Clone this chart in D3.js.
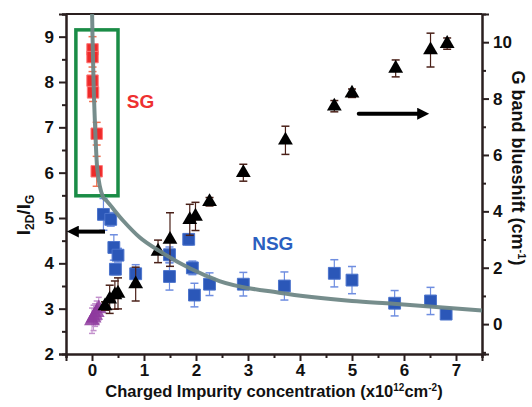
<!DOCTYPE html>
<html>
<head>
<meta charset="utf-8">
<script src="https://cdn.jsdelivr.net/npm/d3@7/dist/d3.min.js"></script>
<style>
  body { margin: 0; background: #fff; }
  svg { font-family: "Liberation Sans", Arial, sans-serif; font-weight: bold; }
</style>
</head>
<body>
<svg id="chart"></svg>
<script>
// SG samples (left axis, I2D/IG)
const sgX = [0.01, 0.01, 0.01, 0.02, 0.09, 0.09];
const sgY = [8.72, 8.55, 8.03, 7.77, 6.86, 6.03];
const sgErr = [0.28, 0.22, 0.2, 0.2, 0.25, 0.33];

// NSG samples (left axis, I2D/IG)
const nsgX = [0.22, 0.36, 0.42, 0.50, 0.45, 0.84, 1.49, 1.49, 1.86, 1.93, 1.97, 2.26, 2.91, 3.70, 4.66, 5.00, 5.82, 6.51, 6.81];
const nsgY = [5.08, 4.97, 4.35, 4.18, 3.87, 3.77, 4.19, 3.71, 4.53, 3.90, 3.30, 3.54, 3.54, 3.50, 3.78, 3.63, 3.12, 3.17, 2.88];
const nsgErr = [0.35, 0.15, 0.28, 0.15, 0.12, 0.2, 0.17, 0.3, 0.12, 0.15, 0.26, 0.25, 0.26, 0.31, 0.3, 0.3, 0.28, 0.3, 0.05];

// G band blueshift (right axis, cm-1)
const shiftX = [0.25, 0.34, 0.44, 0.50, 0.84, 1.27, 1.50, 1.88, 1.99, 2.26, 2.91, 3.72, 4.66, 5.00, 5.84, 6.51, 6.83];
const shiftY = [0.64, 0.88, 1.03, 1.09, 1.42, 2.58, 3.0, 3.70, 3.82, 4.34, 5.37, 6.52, 7.73, 8.19, 9.07, 9.72, 9.95];
const shiftErr = [0.15, 0.5, 0.5, 0.55, 0.6, 0.4, 0.95, 0.55, 0.5, 0.15, 0.3, 0.5, 0.2, 0.15, 0.3, 0.6, 0.2];

// blueshift of the SG samples (right axis)
const sgShiftX = [0.0, 0.03, 0.06, 0.09, 0.13];
const sgShiftY = [0.12, 0.22, 0.32, 0.42, 0.55];
const sgShiftErr = [0.45, 0.45, 0.4, 0.4, 0.4];

// fitted curve (left axis)
const fitX = [0.002, 0.01, 0.03, 0.06, 0.1, 0.21, 0.28, 0.6, 0.92, 1.3, 1.88, 2.45, 3.6, 5.0, 5.8, 7.5];
const fitY = [9.5, 9.0, 8.0, 7.0, 6.1, 5.47, 5.38, 4.94, 4.57, 4.27, 3.89, 3.61, 3.35, 3.17, 3.11, 2.96];

const xTicks = [0, 1, 2, 3, 4, 5, 6, 7];
const leftTicks = [2, 3, 4, 5, 6, 7, 8, 9];
const rightTicks = [0, 2, 4, 6, 8, 10];

const width = 532, height = 407;
const margin = { top: 14, right: 50, bottom: 53, left: 66 };
const axisColor = "#2a1f1f";

const svg = d3.select("#chart").attr("width", width).attr("height", height);

const x = d3.scaleLinear().domain([-0.5, 7.5]).range([margin.left, width - margin.right]);
const yL = d3.scaleLinear().domain([2, 9.5]).range([height - margin.bottom, margin.top]);
const yR = d3.scaleLinear().domain([-1.06, 11]).range([height - margin.bottom, margin.top]);

const zip = (xs, ys, es) => xs.map((v, i) => ({ x: v, y: ys[i], e: es ? es[i] : 0 }));

// axes
function styleAxis(g) {
    g.select(".domain").attr("stroke", axisColor).attr("stroke-width", 2);
    g.selectAll(".tick line").attr("stroke", axisColor).attr("stroke-width", 2);
    g.selectAll(".tick text").attr("fill", "#111").style("font-size", "17px").style("font-weight", "bold");
}

const xMinor = d3.range(-0.5, 7.6, 0.5).filter(v => !xTicks.includes(v));
svg.append("g").attr("transform", `translate(0,${height - margin.bottom})`)
    .call(d3.axisBottom(x).tickValues(xMinor).tickSize(4).tickFormat(""))
    .call(styleAxis);
svg.append("g").attr("transform", `translate(0,${height - margin.bottom})`)
    .call(d3.axisBottom(x).tickValues(xTicks).tickSize(7).tickPadding(3).tickFormat(d3.format("d")))
    .call(styleAxis);

const lMinor = d3.range(2.5, 9.6, 1);
svg.append("g").attr("transform", `translate(${margin.left},0)`)
    .call(d3.axisLeft(yL).tickValues(lMinor).tickSize(4).tickFormat(""))
    .call(styleAxis);
svg.append("g").attr("transform", `translate(${margin.left},0)`)
    .call(d3.axisLeft(yL).tickValues(leftTicks).tickSize(7).tickPadding(5))
    .call(styleAxis);

const rMinor = [-1, 1, 3, 5, 7, 9];
svg.append("g").attr("transform", `translate(${width - margin.right},0)`)
    .call(d3.axisRight(yR).tickValues(rMinor).tickSize(4).tickFormat(""))
    .call(styleAxis);
svg.append("g").attr("transform", `translate(${width - margin.right},0)`)
    .call(d3.axisRight(yR).tickValues(rightTicks).tickSize(7).tickPadding(4))
    .call(styleAxis);

// top frame line
svg.append("line")
    .attr("x1", margin.left).attr("x2", width - margin.right)
    .attr("y1", margin.top).attr("y2", margin.top)
    .attr("stroke", axisColor).attr("stroke-width", 2);

// green box around SG samples
svg.append("rect")
    .attr("x", x(-0.31)).attr("y", yL(9.15))
    .attr("width", x(0.5) - x(-0.31)).attr("height", yL(5.49) - yL(9.15))
    .attr("fill", "none").attr("stroke", "#1a8c46").attr("stroke-width", 3.5);

// error bars + markers
function drawSeries(data, yScale, opts) {
    const g = svg.append("g");
    const cap = opts.cap || 4;
    const bars = g.selectAll("g.err").data(data.filter(d => d.e > 0)).join("g").attr("class", "err");
    bars.append("line")
        .attr("x1", d => x(d.x)).attr("x2", d => x(d.x))
        .attr("y1", d => yScale(d.y + d.e)).attr("y2", d => yScale(d.y - d.e))
        .attr("stroke", opts.errColor).attr("stroke-width", opts.errWidth || 1.2);
    [1, -1].forEach(s => {
        bars.append("line")
            .attr("x1", d => x(d.x) - cap).attr("x2", d => x(d.x) + cap)
            .attr("y1", d => yScale(d.y + s * d.e)).attr("y2", d => yScale(d.y + s * d.e))
            .attr("stroke", opts.errColor).attr("stroke-width", 1.5);
    });
    g.selectAll("path.mark").data(data).join("path").attr("class", "mark")
        .attr("transform", d => `translate(${x(d.x)},${yScale(d.y)})`)
        .attr("d", d3.symbol().type(opts.symbol).size(opts.size))
        .attr("fill", opts.fill)
        .attr("fill-opacity", opts.opacity || 1)
        .attr("stroke", opts.stroke || "none")
        .attr("stroke-width", 1);
}

drawSeries(zip(sgShiftX, sgShiftY, sgShiftErr), yR,
    { symbol: d3.symbolTriangle, size: 110, fill: "#8e3a9e", opacity: 0.85, errColor: "#c290cc", errWidth: 1, cap: 3 });
drawSeries(zip(sgX, sgY, sgErr), yL,
    { symbol: d3.symbolSquare, size: 130, fill: "#ee2a2a", stroke: "#f77", errColor: "#f07050" });
drawSeries(zip(nsgX, nsgY, nsgErr), yL,
    { symbol: d3.symbolSquare, size: 140, fill: "#2b57b8", stroke: "#4c74cc", errColor: "#6f8ee0" });
drawSeries(zip(shiftX, shiftY, shiftErr), yR,
    { symbol: d3.symbolTriangle, size: 95, fill: "#000", errColor: "#4a2018" });

// fitted curve
const line = d3.line().x(d => x(d.x)).y(d => yL(d.y)).curve(d3.curveMonotoneX);
svg.append("path")
    .datum(zip(fitX, fitY))
    .attr("d", line)
    .attr("fill", "none")
    .attr("stroke", "#6f8786")
    .attr("stroke-width", 4)
    .attr("stroke-opacity", 0.95);

// arrows pointing to the relevant axis
const defs = svg.append("defs");
defs.append("marker")
    .attr("id", "head").attr("viewBox", "0 0 10 10")
    .attr("refX", 2).attr("refY", 5)
    .attr("markerWidth", 4.5).attr("markerHeight", 3)
    .attr("orient", "auto")
    .append("path").attr("d", "M0,0 L10,5 L0,10 z").attr("fill", "#000");

svg.append("line")
    .attr("x1", x(0.25)).attr("y1", yL(4.7))
    .attr("x2", x(-0.3)).attr("y2", yL(4.7))
    .attr("stroke", "#000").attr("stroke-width", 4).attr("marker-end", "url(#head)");
svg.append("line")
    .attr("x1", x(5.13)).attr("y1", yL(7.3))
    .attr("x2", x(6.3)).attr("y2", yL(7.3))
    .attr("stroke", "#000").attr("stroke-width", 4).attr("stroke-linecap", "round").attr("marker-end", "url(#head)");

// labels
svg.append("text").attr("x", x(0.67)).attr("y", yL(7.57) + 7)
    .attr("fill", "#ee3030").style("font-size", "19px").text("SG");
svg.append("text").attr("x", x(3.08)).attr("y", yL(4.45) + 7)
    .attr("fill", "#2b5fc0").style("font-size", "19px").text("NSG");

const xl = svg.append("text")
    .attr("x", (margin.left + width - margin.right) / 2).attr("y", 397)
    .attr("text-anchor", "middle").attr("fill", "#111").style("font-size", "16.5px");
xl.append("tspan").text("Charged Impurity concentration (x10");
xl.append("tspan").attr("dy", -6).style("font-size", "10px").text("12");
xl.append("tspan").attr("dy", 6).text("cm");
xl.append("tspan").attr("dy", -6).style("font-size", "10px").text("-2");
xl.append("tspan").attr("dy", 6).text(")");

const yl = svg.append("text")
    .attr("transform", "translate(30,215) rotate(-90)")
    .attr("text-anchor", "middle").attr("fill", "#111").style("font-size", "19px");
yl.append("tspan").text("I");
yl.append("tspan").attr("dy", 4).style("font-size", "12px").text("2D");
yl.append("tspan").attr("dy", -4).text("/I");
yl.append("tspan").attr("dy", 4).style("font-size", "12px").text("G");

const yr = svg.append("text")
    .attr("transform", "translate(512,168) rotate(90)")
    .attr("text-anchor", "middle").attr("fill", "#111").style("font-size", "18px");
yr.append("tspan").text("G band blueshift (cm");
yr.append("tspan").attr("dy", -6).style("font-size", "11px").text("-1");
yr.append("tspan").attr("dy", 6).text(")");
</script>
</body>
</html>
